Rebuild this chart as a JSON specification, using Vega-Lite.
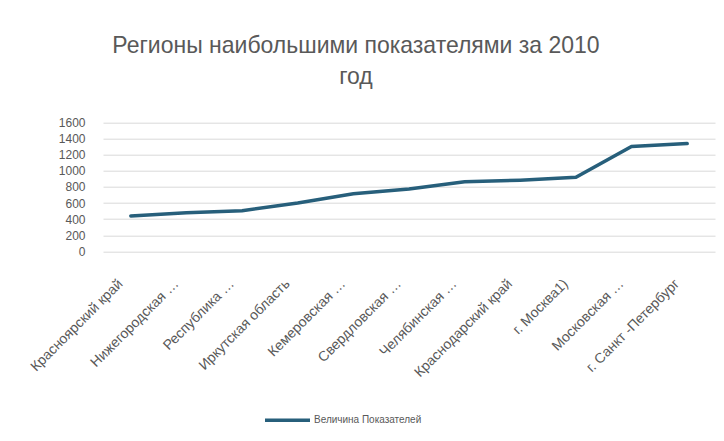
{
  "$schema": "https://vega.github.io/schema/vega-lite/v6.json",
  "autosize": "none",
  "width": 612,
  "height": 128.6,
  "padding": {"left": 103, "top": 122.7, "right": 9, "bottom": 190},
  "background": "white",
  "title": {
    "text": ["Регионы наибольшими показателями за 2010", "год"],
    "font": "Liberation Sans",
    "fontSize": 23,
    "fontWeight": "normal",
    "color": "#595959",
    "lineHeight": 31,
    "anchor": "middle",
    "frame": "group",
    "dx": -53,
    "offset": 28
  },
  "data": {
    "values": [
      {"region": "Красноярский край", "value": 440, "series": "Величина Показателей"},
      {"region": "Нижегородская …", "value": 480, "series": "Величина Показателей"},
      {"region": "Республика …", "value": 505, "series": "Величина Показателей"},
      {"region": "Иркутская область", "value": 600, "series": "Величина Показателей"},
      {"region": "Кемеровская …", "value": 715, "series": "Величина Показателей"},
      {"region": "Свердловская …", "value": 775, "series": "Величина Показателей"},
      {"region": "Челябинская …", "value": 865, "series": "Величина Показателей"},
      {"region": "Краснодарский край", "value": 885, "series": "Величина Показателей"},
      {"region": "г. Москва1)", "value": 920, "series": "Величина Показателей"},
      {"region": "Московская …", "value": 1305, "series": "Величина Показателей"},
      {"region": "г. Санкт -Петербург", "value": 1340, "series": "Величина Показателей"}
    ]
  },
  "mark": {"type": "line", "strokeWidth": 3.5, "strokeCap": "round"},
  "encoding": {
    "x": {
      "field": "region",
      "type": "nominal",
      "sort": null,
      "scale": {"type": "band", "paddingInner": 0, "paddingOuter": 0},
      "axis": {
        "title": null,
        "labelAngle": -45,
        "labelAlign": "right",
        "labelBaseline": "middle",
        "labelPadding": 30,
        "labelOffset": -10,
        "labelFont": "Liberation Sans",
        "labelFontSize": 14,
        "labelColor": "#595959",
        "domain": false,
        "ticks": false,
        "grid": false,
        "labelOverlap": false,
        "labelLimit": 300
      }
    },
    "y": {
      "field": "value",
      "type": "quantitative",
      "scale": {"domain": [0, 1600], "nice": false},
      "axis": {
        "title": null,
        "values": [0, 200, 400, 600, 800, 1000, 1200, 1400, 1600],
        "format": "d",
        "labelFont": "Liberation Sans",
        "labelFontSize": 12,
        "labelColor": "#595959",
        "labelPadding": 18,
        "labelOverlap": false,
        "domain": false,
        "ticks": false,
        "grid": true,
        "gridColor": "#d9d9d9",
        "gridWidth": 1
      }
    },
    "color": {
      "field": "series",
      "type": "nominal",
      "scale": {"range": ["#275f7b"]},
      "legend": {
        "title": null,
        "orient": "none",
        "legendX": 160,
        "legendY": 273,
        "symbolType": "stroke",
        "symbolSize": 2025,
        "symbolStrokeWidth": 3.5,
        "labelFont": "Liberation Sans",
        "labelFontSize": 10,
        "labelColor": "#595959",
        "labelOffset": 2
      }
    }
  },
  "config": {"view": {"stroke": null}}
}
